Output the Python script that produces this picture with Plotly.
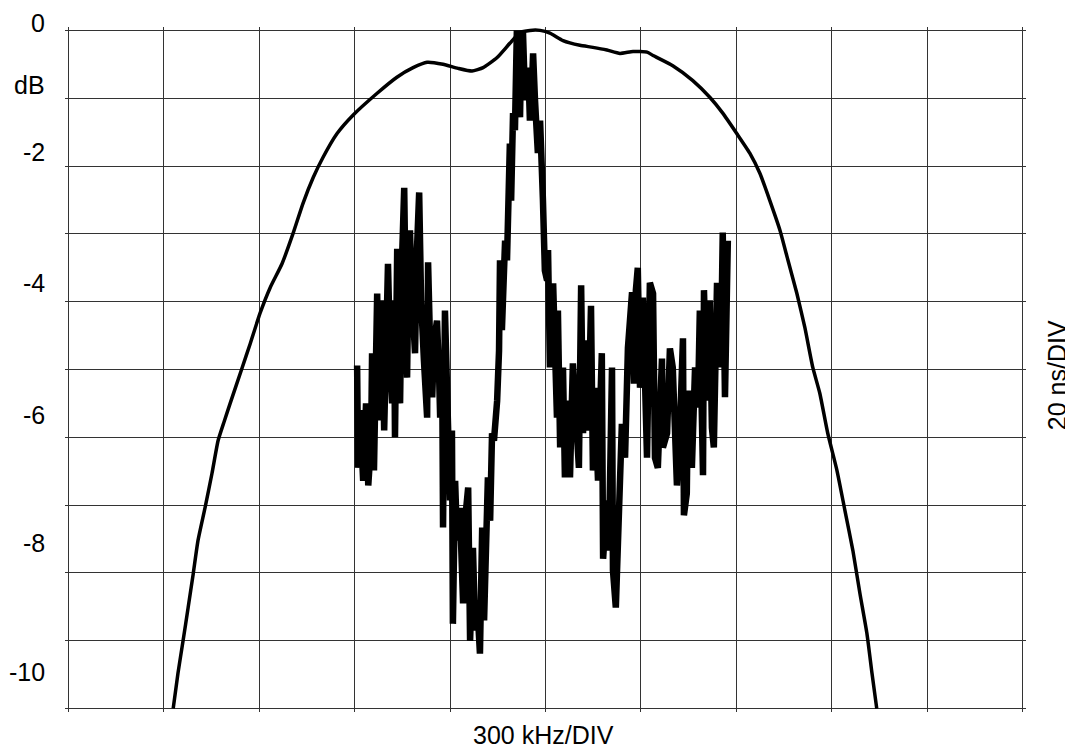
import plotly.graph_objects as go

# Wide envelope (frequency response), x in kHz offset, y in dB
env_khz = [-1170, -1155, -1139, -1123, -1107, -1092, -1070, -1048, -1029, -1010, -991,
           -953, -928, -897, -865, -828, -793, -762, -730, -699, -655,
           -605, -530, -467, -416, -372, -322, -275, -231, -196, -152,
           -112, -80, -49, -17, 14, 55, 108, 149, 193, 234,
           275, 319, 338, 400, 463, 517, 557, 601, 642, 674,
           705, 737, 762, 790, 815, 840, 862, 887, 916, 941,
           966, 988, 1010, 1026, 1041]
env_db = [-10.0, -9.48, -9.00, -8.51, -8.01, -7.52, -7.04, -6.53, -6.05, -5.77, -5.50,
          -4.97, -4.62, -4.17, -3.79, -3.44, -2.99, -2.55, -2.17, -1.87, -1.52,
          -1.25, -0.93, -0.69, -0.55, -0.47, -0.50, -0.56, -0.60, -0.55, -0.40,
          -0.19, -0.03, 0.0, 0.0, -0.04, -0.15, -0.22, -0.25, -0.29, -0.34,
          -0.31, -0.32, -0.37, -0.52, -0.74, -0.99, -1.22, -1.52, -1.81, -2.11,
          -2.51, -2.95, -3.39, -3.88, -4.38, -4.97, -5.35, -5.94, -6.49, -7.08,
          -7.67, -8.30, -8.89, -9.48, -10.0]

# Noisy trace
noisy_khz = [-592, -589, -583, -573, -564, -557, -548, -545, -539, -529,
             -523, -514, -507, -501, -495, -488, -482, -476, -473, -466,
             -460, -457, -451, -444, -438, -435, -429, -426, -419, -410,
             -404, -397, -391, -388, -382, -372, -369, -363, -356, -350,
             -341, -334, -331, -325, -322, -316, -309, -303, -300, -294,
             -291, -284, -278, -269, -262, -259, -253, -243, -237, -231,
             -228, -221, -215, -206, -199, -193, -190, -184, -181, -174,
             -168, -162, -152, -146, -143, -137, -127, -121, -118, -112,
             -108, -105, -102, -96, -90, -86, -80, -77, -71, -64,
             -58, -52, -49, -42, -39, -33, -27, -24, -17, -11,
             -8, -2, 5, 8, 14, 24, 36, 39, 46, 55,
             61, 71, 77, 86, 99, 105, 112, 118, 124, 134,
             143, 149, 155, 165, 177, 181, 193, 199, 209, 212,
             221, 228, 240, 250, 256, 259, 272, 278, 284, 290,
             297, 306, 319, 328, 338, 344, 353, 366, 369, 382,
             391, 400, 413, 422, 432, 435, 444, 448, 460, 470,
             479, 485, 495, 498, 507, 516, 523, 529, 539, 545,
             554, 557, 564, 573]
noisy_db = [-4.94, -6.45, -5.60, -6.64, -5.50, -6.71, -6.05, -4.76, -6.49, -3.88,
            -5.75, -3.98, -5.90, -4.72, -3.44, -4.87, -5.50, -3.98, -6.00, -3.22,
            -4.72, -5.50, -3.39, -2.32, -4.42, -5.12, -3.10, -2.95, -3.98, -4.76,
            -3.24, -2.39, -3.98, -4.17, -4.87, -5.71, -3.42, -4.57, -5.41, -4.57,
            -4.28, -5.16, -5.71, -4.72, -7.33, -4.13, -5.12, -6.34, -6.93, -5.90,
            -8.75, -6.64, -7.52, -7.04, -8.11, -8.45, -7.23, -6.74, -9.00, -7.82,
            -7.63, -8.85, -8.41, -9.19, -7.33, -8.70, -8.16, -6.93, -6.59, -7.23,
            -5.94, -6.05, -5.46, -4.72, -3.39, -4.42, -3.10, -3.39, -2.95, -1.67,
            -2.51, -2.06, -1.22, -1.47, 0.0, -0.88, -1.28, -0.44, 0.0, -1.03,
            -0.55, -0.88, -1.33, -0.74, -0.34, -1.03, -1.37, -1.81, -1.33, -1.96,
            -2.51, -3.54, -3.69, -3.24, -4.97, -3.73, -5.71, -4.13, -6.15, -4.97,
            -6.59, -5.46, -6.59, -4.91, -5.94, -6.45, -3.76, -5.94, -4.57, -5.90,
            -4.06, -6.49, -5.27, -6.64, -4.76, -7.79, -6.93, -7.67, -4.97, -7.96,
            -8.51, -7.27, -5.80, -6.30, -5.16, -4.68, -3.86, -5.21, -3.83, -3.50,
            -5.27, -3.94, -6.30, -3.72, -3.88, -6.30, -6.45, -4.84, -6.15, -5.94,
            -4.69, -4.97, -6.71, -5.94, -4.54, -7.15, -6.83, -5.31, -6.45, -4.97,
            -5.56, -4.13, -6.56, -3.83, -5.46, -3.98, -5.86, -6.15, -3.72, -4.97,
            -3.94, -2.98, -5.41, -3.10]

y_labels = ["0", "dB", "-2", "-4", "-6", "-8", "-10"]
y_label_pos = [1.0058, 0.9153, 0.8175, 0.6262, 0.4334, 0.2465, 0.0581]  # paper coords
x_title = "300 kHz/DIV"
right_title = "20 ns/DIV"

FONT = "Arial, Liberation Sans, sans-serif"

fig = go.Figure()
fig.add_trace(go.Scatter(x=env_khz, y=env_db, mode="lines",
                         line=dict(color="black", width=3.5, shape="spline", smoothing=0.5),
                         hoverinfo="skip"))
fig.add_trace(go.Scatter(x=noisy_khz, y=noisy_db, mode="lines",
                         line=dict(color="black", width=6.5), hoverinfo="skip"))

annotations = []
for t, yp in zip(y_labels, y_label_pos):
    annotations.append(dict(text=t, xref="paper", yref="paper", x=-0.021, y=yp,
                            xanchor="right", yanchor="middle", showarrow=False,
                            borderpad=0, borderwidth=0,
                            font=dict(family=FONT, size=25, color="black")))
annotations.append(dict(text=x_title, xref="paper", yref="paper", x=0.4984, y=-0.0339,
                        xanchor="center", yanchor="middle", showarrow=False,
                        font=dict(family=FONT, size=25, color="black")))
annotations.append(dict(text=right_title, xref="paper", yref="paper", x=1.0323, y=0.4918,
                        xanchor="center", yanchor="middle", showarrow=False, textangle=-90,
                        font=dict(family=FONT, size=25, color="black")))

fig.update_layout(
    width=1073, height=748,
    margin=dict(l=57, r=55, t=19, b=44),
    paper_bgcolor="white", plot_bgcolor="white",
    showlegend=False,
    annotations=annotations,
    xaxis=dict(range=[-1510, 1510], tick0=-1500, dtick=300, showgrid=True,
               gridcolor="#333333", gridwidth=1.2, showticklabels=False,
               zeroline=False, showline=False, ticks="", fixedrange=True),
    yaxis=dict(range=[-10.05, 0.05], tick0=0, dtick=1, showgrid=True,
               gridcolor="#333333", gridwidth=1.2, showticklabels=False,
               zeroline=False, showline=False, ticks="", fixedrange=True),
)

fig.write_html("out.html")
